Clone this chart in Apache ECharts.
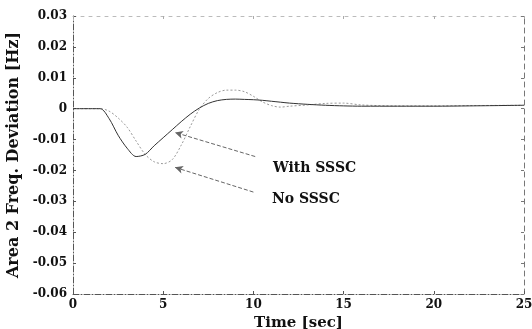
<!DOCTYPE html>
<html>
<head>
<meta charset="utf-8">
<script src="https://cdn.jsdelivr.net/npm/echarts@6/dist/echarts.min.js"></script>
<style>
  html, body { margin: 0; padding: 0; background: #fff; }
  #chart { width: 532px; height: 329px; }
</style>
</head>
<body>
<div id="chart"></div>
<script>
// time axis (sec)
const timeSec = [0, 1.5, 2, 2.5, 3, 3.5, 4, 4.5, 5, 5.5, 6, 6.5, 7, 7.5, 8, 8.5, 9, 9.5, 10, 10.5, 11, 11.5, 12, 13, 14, 15, 16, 18, 20, 22, 25];
// Area 2 frequency deviation (Hz)
const withSSSC = [0, 0, -0.0032, -0.0086, -0.0128, -0.0155, -0.0148, -0.012, -0.0094, -0.0068, -0.0042, -0.0018, 0.0002, 0.0017, 0.0026, 0.003, 0.0031, 0.003, 0.0029, 0.0027, 0.0024, 0.0021, 0.0018, 0.0014, 0.0011, 0.0009, 0.0008, 0.0008, 0.0008, 0.0009, 0.0011];
const noSSSC = [0, 0, -0.0008, -0.003, -0.006, -0.0105, -0.0148, -0.0172, -0.0178, -0.0165, -0.0118, -0.0058, -0.0002, 0.0033, 0.0052, 0.006, 0.006, 0.0055, 0.004, 0.0022, 0.001, 0.0005, 0.0008, 0.0012, 0.0017, 0.0018, 0.0012, 0.0009, 0.0009, 0.001, 0.0011];
const xTicks = [0, 5, 10, 15, 20, 25];
const yTicks = [-0.06, -0.05, -0.04, -0.03, -0.02, -0.01, 0, 0.01, 0.02, 0.03];

// annotation arrows, in data coordinates [tail, head]
const arrowWith = [[10.1, -0.0155], [5.65, -0.0077]];
const arrowNo = [[10.0, -0.027], [5.65, -0.019]];

const FONT = '"DejaVu Serif", "Liberation Serif", serif';

const chart = echarts.init(document.getElementById('chart'));

const toPairs = (ys) => timeSec.map((t, i) => [t, ys[i]]);

const boxAxisLine = { show: true, onZero: false, lineStyle: { color: '#555', width: 1, type: [6, 2, 1, 2] } };

chart.setOption({
  animation: false,
  backgroundColor: '#fff',
  grid: { left: 73, right: 8, top: 16, bottom: 35, outerBoundsMode: 'none', containLabel: false },
  xAxis: [
    {
      type: 'value',
      min: xTicks[0],
      max: xTicks[xTicks.length - 1],
      interval: 5,
      name: 'Time [sec]',
      nameLocation: 'middle',
      nameGap: 18,
      nameTextStyle: { fontFamily: FONT, fontWeight: 'bold', fontSize: 15, color: '#111' },
      axisLine: boxAxisLine,
      axisTick: { show: true, inside: true, length: 3, lineStyle: { color: '#555' } },
      axisLabel: { fontFamily: FONT, fontWeight: 'bold', fontSize: 12, color: '#111', margin: 5 },
      splitLine: { show: false },
    },
    {
      type: 'value',
      position: 'top',
      min: xTicks[0],
      max: xTicks[xTicks.length - 1],
      interval: 5,
      axisLine: { show: true, onZero: false, lineStyle: { color: '#bbb', width: 1, type: [3, 5] } },
      axisTick: { show: true, inside: true, length: 3, lineStyle: { color: '#aaa' } },
      axisLabel: { show: false },
      splitLine: { show: false },
    },
  ],
  yAxis: [
    {
      type: 'value',
      min: yTicks[0],
      max: yTicks[yTicks.length - 1],
      interval: 0.01,
      name: 'Area 2 Freq. Deviation [Hz]',
      nameLocation: 'middle',
      nameGap: 50,
      nameTextStyle: { fontFamily: FONT, fontWeight: 'bold', fontSize: 16, color: '#111' },
      axisLine: boxAxisLine,
      axisTick: { show: true, inside: true, length: 3, lineStyle: { color: '#555' } },
      axisLabel: {
        fontFamily: FONT, fontWeight: 'bold', fontSize: 12, color: '#111', margin: 6,
        formatter: (v) => (Math.abs(v) < 1e-9 ? '0' : v.toFixed(2)),
      },
      splitLine: { show: false },
    },
    {
      type: 'value',
      position: 'right',
      min: yTicks[0],
      max: yTicks[yTicks.length - 1],
      interval: 0.01,
      axisLine: { show: true, onZero: false, lineStyle: { color: '#777', width: 1, type: [5, 4] } },
      axisTick: { show: true, inside: true, length: 3, lineStyle: { color: '#777' } },
      axisLabel: { show: false },
      splitLine: { show: false },
    },
  ],
  series: [
    {
      name: 'No SSSC',
      type: 'line',
      data: toPairs(noSSSC),
      smooth: 0.3,
      showSymbol: false,
      lineStyle: { color: '#999', width: 1, type: [2, 2] },
      markLine: {
        silent: true,
        symbol: ['none', 'arrow'],
        symbolSize: [6, 8],
        label: { show: false },
        lineStyle: { color: '#666', width: 1, type: [4, 2] },
        data: [
          [{ coord: arrowWith[0] }, { coord: arrowWith[1] }],
          [{ coord: arrowNo[0] }, { coord: arrowNo[1] }],
        ],
      },
    },
    {
      name: 'With SSSC',
      type: 'line',
      data: toPairs(withSSSC),
      smooth: 0.3,
      showSymbol: false,
      lineStyle: { color: '#333', width: 1 },
    },
  ],
  graphic: [
    {
      type: 'text',
      left: 273,
      top: 161,
      style: { text: 'With SSSC', font: 'bold 14px ' + FONT, fill: '#111' },
    },
    {
      type: 'text',
      left: 272,
      top: 192,
      style: { text: 'No SSSC', font: 'bold 14px ' + FONT, fill: '#111' },
    },
  ],
});
</script>
</body>
</html>
